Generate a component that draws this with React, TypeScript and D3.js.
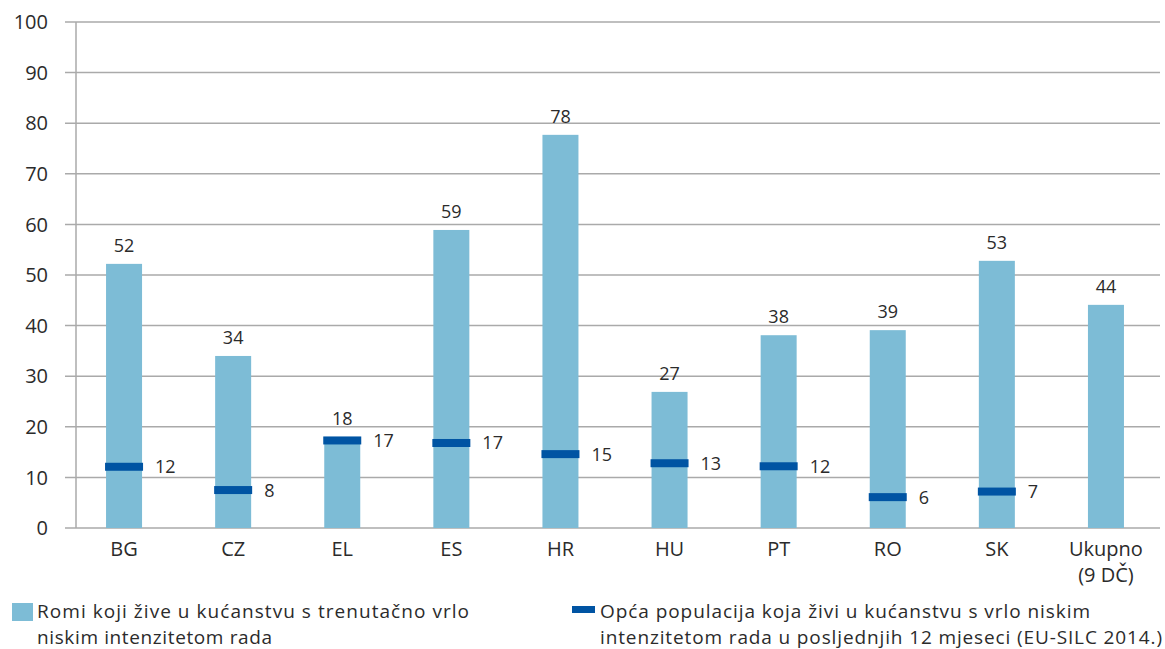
import React from "react";
import * as d3 from "d3";

const categories = ["BG", "CZ", "EL", "ES", "HR", "HU", "PT", "RO", "SK", "Ukupno"];
const categoryLines: string[][] = [["BG"], ["CZ"], ["EL"], ["ES"], ["HR"], ["HU"], ["PT"], ["RO"], ["SK"], ["Ukupno", "(9 DČ)"]];
const romaValues = [52.2, 34, 18, 58.9, 77.7, 26.9, 38.1, 39.1, 52.8, 44.1];
const romaLabels = ["52", "34", "18", "59", "78", "27", "38", "39", "53", "44"];
const generalValues: (number | null)[] = [12.1, 7.5, 17.3, 16.8, 14.6, 12.8, 12.2, 6.1, 7.2, null];
const generalLabels = ["12", "8", "17", "17", "15", "13", "12", "6", "7", ""];
const yTicks = [0, 10, 20, 30, 40, 50, 60, 70, 80, 90, 100];
const legendRoma = ["Romi koji žive u kućanstvu s trenutačno vrlo", "niskim intenzitetom rada"];
const legendGeneral = ["Opća populacija koja živi u kućanstvu s vrlo niskim", "intenzitetom rada u posljednjih 12 mjeseci (EU-SILC 2014.)"];

const W = 1165, H = 649;
const left = 76, right = 1160, top = 22, bottom = 528;
const barColor = "#7dbcd6";
const markColor = "#0054a3";
const textColor = "#2b2b2b";
const font = "'Open Sans', 'DejaVu Sans', sans-serif";

export default function App() {
  const x = d3.scaleBand<string>().domain(categories).range([69.5, 1160.5]).paddingInner(0.67).paddingOuter(0.335);
  const y = d3.scaleLinear().domain([0, 100]).range([bottom, top]);
  const bw = x.bandwidth();
  const cx = (c: string) => (x(c) as number) + bw / 2;

  return (
    <svg width={W} height={H} style={{ position: "absolute", left: 0, top: 0, background: "#fff" }} fontFamily={font}>
      {yTicks.map((t) => (
        <g key={t}>
          <line x1={65} x2={right} y1={y(t)} y2={y(t)} stroke="#aaaaaa" strokeWidth={1.5} />
          <text x={48} y={y(t)} dy="0.36em" textAnchor="end" fontSize={20} fill={textColor}>{t}</text>
        </g>
      ))}
      <line x1={left} x2={left} y1={top} y2={bottom} stroke="#aaaaaa" strokeWidth={1.5} />
      {categories.map((c, i) => (
        <g key={c}>
          <rect x={x(c)} y={y(romaValues[i])} width={bw} height={bottom - y(romaValues[i])} fill={barColor} />
          <text x={cx(c)} y={y(romaValues[i]) - 12} textAnchor="middle" fontSize={18} fill={textColor}>{romaLabels[i]}</text>
          {generalValues[i] !== null && (
            <g>
              <rect x={(x(c) as number) - 1} y={y(generalValues[i] as number) - 4} width={bw + 2} height={8} fill={markColor} />
              <text x={cx(c) + 31} y={y(generalValues[i] as number)} dy="0.36em" fontSize={18} fill={textColor}>{generalLabels[i]}</text>
            </g>
          )}
          {categoryLines[i].map((ln, j) => (
            <text key={j} x={cx(c)} y={556 + j * 26} textAnchor="middle" fontSize={20} fill={textColor}>{ln}</text>
          ))}
        </g>
      ))}
      <rect x={12} y={603} width={21} height={18} fill={barColor} />
      {legendRoma.map((ln, j) => (
        <text key={j} x={37} y={618 + j * 26} fontSize={19} fill={textColor} textLength={j === 0 ? 432 : 235} lengthAdjust="spacing">{ln}</text>
      ))}
      <rect x={572} y={606} width={23} height={7} fill={markColor} />
      {legendGeneral.map((ln, j) => (
        <text key={j} x={600} y={618 + j * 26} fontSize={19} fill={textColor} textLength={j === 0 ? 490 : 562} lengthAdjust="spacing">{ln}</text>
      ))}
    </svg>
  );
}
